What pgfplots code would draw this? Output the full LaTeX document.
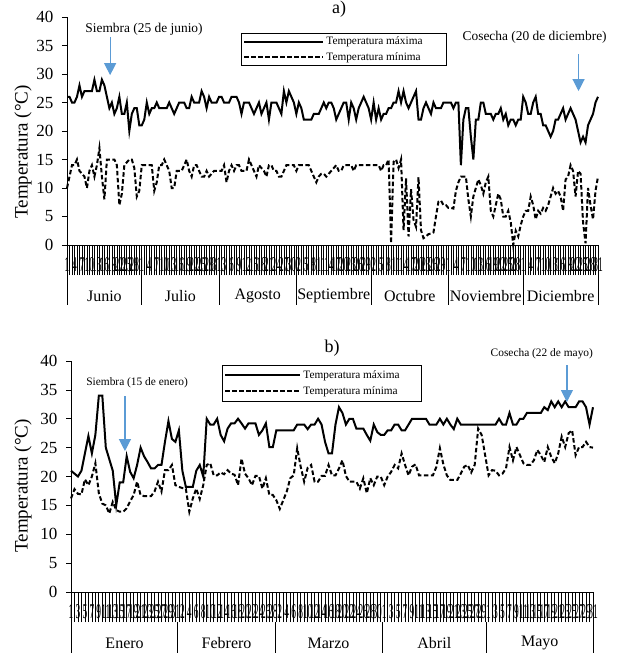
\documentclass[border=0pt]{standalone}
\usepackage{pgfplots}
\pgfplotsset{compat=1.18}
\usepackage{pgfplotstable}
\usepackage{fontspec}
\setmainfont{Liberation Serif}
\usetikzlibrary{arrows.meta}
\definecolor{arrblue}{HTML}{5B9BD5}

\pgfplotstableread{
d tmax tmin
1 26 10
2 26 12
3 25 14
4 25 14
5 26 15
6 28 13
7 26 12.5
8 27 12
9 27 10
10 27 13
11 27 14
12 29 12
13 27 14
14 27 17
15 29 12
16 28 8
17 26 15
18 24 15
19 25 15
20 23 15
21 24 14
22 26 7
23 23 9
24 23 14
25 25 14.5
26 20 15
27 23 15
28 24 13.5
29 24 8.5
30 21 9.5
31 21 14
32 22 14
33 25 14
34 23 14
35 24 14
36 24 9.5
37 25 11
38 24 14
39 24 14
40 24 15
41 24 14
42 25 13
43 24 10
44 23 10
45 24 13
46 25 13
47 25 13
48 25 14
49 24 15
50 24 13
51 26 12
52 25 14
53 25 14
54 25 13
55 27 12
56 26 12
57 24 13
58 26 12
59 25 12.5
60 25 13
61 25 13
62 26 13
63 26 13
64 25 14
65 25 11
66 25 13
67 26 14
68 26 13
69 26 14
70 25 14
71 23 13
72 25 13
73 25 13
74 25 15
75 24 14
76 23 13
77 24 12
78 25 14
79 23 13.5
80 24 13
81 25 12
82 22 14
83 25 14
84 25 13
85 25 13
86 24 12
87 23 12
88 27 13
89 25 14
90 27 14
91 26 14
92 25 14
93 23 13
94 25 14
95 24 14
96 22 14
97 22 14
98 22 14
99 22 13
100 23 12
101 23 11
102 23 12
103 24 12.5
104 25 12.5
105 24 12
106 25 12.5
107 25 13
108 24 13.5
109 22 14
110 23 13
111 24 13
112 25 14
113 25 14
114 22 14
115 25 14
116 24 13
117 22 14
118 24 14
119 25 14
120 26 14
121 25 14
122 24 14
123 22 14
124 25 14
125 22 14
126 24 14
127 22 13
128 23 14
129 23 14
130 24 15
131 24 0.3
132 25 14.6
133 25 15
134 27 13.5
135 25 15
136 27 2.6
137 25 11.7
138 24 1.5
139 25 9.8
140 26 4.4
141 27 3.2
142 22 11.9
143 22 2.6
144 24 1.2
145 25 1.5
146 24 1.9
147 23 2
148 25 2.2
149 24 5
150 24 7.6
151 24 7.8
152 25 7
153 25 7
154 25 6.5
155 25 6.5
156 24 6.4
157 25 9.5
158 25 11
159 14 12
160 22 12
161 24 12
162 24 8
163 19 5
164 15 8.5
165 22 10
166 22 11.5
167 25 10.5
168 25 9
169 23 11
170 23 12
171 23 6
172 22 5
173 23 7
174 23 9
175 24 8
176 22 5
177 23 5
178 21 6
179 22 4
180 22 0
181 21 2.5
182 22 1.5
183 22 3.5
184 26 5
185 25 6
186 23 6
187 23 8.5
188 25 7
189 26 4.5
190 23 6
191 23 5.5
192 21 6.5
193 21 6
194 20 7
195 19 8.5
196 20 10
197 22 9
198 22 9.5
199 23 8.5
200 24 6
201 22 11.5
202 23 12
203 24 14
204 23 13
205 22 8.5
206 20 13
207 18 12.5
208 19 4
209 18 0.3
210 21 10
211 22 7
212 23 4.5
213 25 9.5
214 26 12
}\dataA

\pgfplotstableread{
d tmax tmin
1 21 16.2
2 20.5 17.8
3 20 17
4 21 16.9
5 24 19.5
6 27 18.5
7 24 20
8 27.2 22.3
9 34 17.1
10 34 15.3
11 25 15
12 23 13.6
13 21 15.6
14 15 14.2
15 19 13.9
16 19 13.9
17 23.5 14.5
18 20.8 15.7
19 19.7 16.8
20 22 19.1
21 25 16.8
22 23.5 16.6
23 22.5 16.6
24 21.4 16.6
25 21.4 17.4
26 22 19.1
27 22 17.4
28 26 21.1
29 29.6 21.1
30 26.5 22
31 26 18.5
32 28 18.2
33 21 18
34 18.2 17.9
35 18.2 13.9
36 18.2 16.2
37 21 17.9
38 22 16.1
39 20 18.5
40 30 22
41 29 22.3
42 29 20.2
43 30 20.2
44 27.2 20.7
45 26.1 20.4
46 28.3 21.1
47 29.2 20.5
48 29.2 20.3
49 30 18.5
50 29.2 23.1
51 28.3 20.5
52 29.2 19.7
53 29.2 18.5
54 29.2 20.1
55 27.2 20.1
56 28 17.9
57 29.2 19.7
58 25.1 16.8
59 25.1 16.8
60 28 15.9
61 28 14.4
62 28 15.9
63 28 17.4
64 28 19.7
65 28 20.2
66 29 24.9
67 29 21.7
68 29 19.1
69 28.2 21.5
70 29 22
71 29 19.1
72 30 19.1
73 29 20.1
74 26 20.1
75 24 22
76 24 20.2
77 29 20.2
78 32 21.4
79 31 22.8
80 29 20.1
81 30 19.1
82 30 19.1
83 28.3 19.1
84 28.3 17.9
85 28.3 19.7
86 27.2 17.1
87 26.2 19.7
88 29 18.5
89 27.7 20
90 27.2 20
91 27.2 18.5
92 28 20
93 28 20.8
94 29 22
95 29 21.4
96 28 24
97 28 22
98 29 20.2
99 30 21.7
100 30 22.1
101 30 20.2
102 30 20.2
103 30 20.2
104 29 20.2
105 29 20.2
106 29 21.7
107 30 24.9
108 29 22.1
109 30 20.2
110 29 19.4
111 28.2 19.4
112 30 19.4
113 29 20.5
114 29 21.7
115 29 22
116 29 20.7
117 29 22
118 29 28.3
119 29 27.2
120 29 23.7
121 29 20.2
122 29 21.1
123 29 21
124 30 20.2
125 29 20.5
126 29 21.4
127 31 25.1
128 29 22.8
129 29 25.1
130 30 23.7
131 30 22.3
132 31 22
133 31 22
134 31 22.8
135 31 24.6
136 31 23.7
137 32 22.5
138 31.5 25.1
139 33 23.4
140 32 22.3
141 33 24
142 32 26.9
143 33 25.1
144 32 27.5
145 32 28
146 32 23.7
147 33 25.1
148 33 25.1
149 32 26
150 29 25.1
151 32 25
}\dataB

\pgfplotsset{
  panel/.style={
    scale only axis, clip=false,
    axis x line*=bottom, axis y line*=left,
    axis line style={line width=0.9pt},
    ymin=0, ymax=40, ytick={0,5,...,40},
    /pgf/number format/assume math mode=true,
    tick align=outside,
    major tick length=30pt, minor tick length=30pt,
    tick style={black, line width=0.7pt},
    ytick style={/pgfplots/major tick length=5pt},
    yticklabel style={font=\fontsize{17}{17}\selectfont, xshift=20pt},
    xticklabel style={font=\fontsize{21}{21}\selectfont, xscale=0.45, yshift=21pt},
    legend cell align=left,
  },
  tmax/.style={black, line width=2pt},
  tmin/.style={black, line width=2pt, dash pattern=on 4.5pt off 2.5pt},
}

\begin{document}
\begin{tikzpicture}
\path[use as bounding box] (0pt,0pt) rectangle (624pt,-663pt);

% ---------------- panel a ----------------
\node[font=\fontsize{18}{18}\selectfont, anchor=north, inner sep=0pt] at (339pt,-0.5pt) {a)};
\node[rotate=90, font=\fontsize{19}{19}\selectfont] at (23pt,-152pt) {Temperatura (°C)};
\begin{axis}[panel,
  at={(67pt,-245pt)}, anchor=south west,
  width=531pt, height=228pt,
  xmin=1, xmax=214,
  xtick={1,4,...,214},
  minor xtick={1,...,214},
  xticklabels={1,4,7,10,13,16,19,22,25,28,1,4,7,10,13,16,19,22,25,28,31,3,6,9,12,15,18,21,24,27,30,2,5,8,11,14,17,20,23,26,29,2,5,8,11,14,17,20,23,26,29,1,4,7,10,13,16,19,22,25,28,1,4,7,10,13,16,19,22,25,28,31},
  legend image code/.code={\path (0pt,0pt) -- (29pt,0pt); \draw[#1] (29pt,0pt) -- (79pt,0pt);},
  legend style={at={(0.3277,0.9298)}, anchor=north west, draw=black, line width=0.8pt,
    font=\fontsize{11.3}{12}\selectfont, inner xsep=2pt, inner ysep=1.5pt, row sep=2pt},
]
\addplot[tmax] table[x=d, y=tmax] {\dataA};
\addlegendentry{Temperatura máxima\hspace*{20pt}}
\addplot[tmin] table[x=d, y=tmin] {\dataA};
\addlegendentry{Temperatura mínima\hspace*{20pt}}
% month separators
\draw[line width=0.7pt] (axis cs:1,0) -- ([yshift=-60pt]axis cs:1,0);
\draw[line width=0.7pt] (axis cs:214,0) -- ([yshift=-60pt]axis cs:214,0);
\draw[line width=0.7pt] ([yshift=-30pt]axis cs:31,0) -- ([yshift=-60pt]axis cs:31,0);
\draw[line width=0.7pt] ([yshift=-30pt]axis cs:62,0) -- ([yshift=-60pt]axis cs:62,0);
\draw[line width=0.7pt] ([yshift=-30pt]axis cs:93,0) -- ([yshift=-60pt]axis cs:93,0);
\draw[line width=0.7pt] ([yshift=-30pt]axis cs:123,0) -- ([yshift=-60pt]axis cs:123,0);
\draw[line width=0.7pt] ([yshift=-30pt]axis cs:154,0) -- ([yshift=-60pt]axis cs:154,0);
\draw[line width=0.7pt] ([yshift=-30pt]axis cs:184,0) -- ([yshift=-60pt]axis cs:184,0);
\node[font=\fontsize{16}{16}\selectfont] at ([yshift=-51pt]axis cs:16,0) {Junio};
\node[font=\fontsize{16}{16}\selectfont] at ([yshift=-51pt]axis cs:46.5,0) {Julio};
\node[font=\fontsize{16}{16}\selectfont] at ([yshift=-51pt]axis cs:77.5,0) {Agosto};
\node[font=\fontsize{16}{16}\selectfont] at ([yshift=-51pt]axis cs:108,0) {Septiembre};
\node[font=\fontsize{16}{16}\selectfont] at ([yshift=-51pt]axis cs:138.5,0) {Octubre};
\node[font=\fontsize{16}{16}\selectfont] at ([yshift=-51pt]axis cs:169,0) {Noviembre};
\node[font=\fontsize{16}{16}\selectfont] at ([yshift=-51pt]axis cs:199,0) {Diciembre};
% annotations
\node[font=\fontsize{13.4}{14}\selectfont] at (axis cs:31.9,37.9) {Siembra (25 de junio)};
\draw[arrblue, line width=1.2pt, -{Triangle[width=12pt,length=12pt]}] (axis cs:18.3,36.5) -- (axis cs:18.3,29.8);
\node[font=\fontsize{13.4}{14}\selectfont] at (axis cs:188.6,36.5) {Cosecha (20 de diciembre)};
\draw[arrblue, line width=1.2pt, -{Triangle[width=12pt,length=12pt]}] (axis cs:206.2,33.5) -- (axis cs:206.2,27);
\end{axis}

% ---------------- panel b ----------------
\node[font=\fontsize{18}{18}\selectfont] at (332pt,-348pt) {b)};
\node[rotate=90, font=\fontsize{19}{19}\selectfont] at (23pt,-486pt) {Temperatura (°C)};
\begin{axis}[panel,
  at={(71pt,-592pt)}, anchor=south west,
  width=522pt, height=231pt,
  xmin=1, xmax=151,
  xtick={1,3,...,151},
  minor xtick={1,...,151},
  xticklabels={1,3,5,7,9,11,13,15,17,19,21,23,25,27,29,31,2,4,6,8,10,12,14,16,18,20,22,24,26,28,2,4,6,8,10,12,14,16,18,20,22,24,26,28,30,1,3,5,7,9,11,13,15,17,19,21,23,25,27,29,1,3,5,7,9,11,13,15,17,19,21,23,25,27,29,31},
  legend image code/.code={\path (0pt,0pt) -- (27pt,0pt); \draw[#1] (27pt,0pt) -- (75pt,0pt);},
  legend style={at={(0.2893,0.9827)}, anchor=north west, draw=black, line width=0.8pt,
    font=\fontsize{11.3}{12}\selectfont, inner xsep=2pt, inner ysep=3pt, row sep=3pt},
]
\addplot[tmax] table[x=d, y=tmax] {\dataB};
\addlegendentry{Temperatura máxima\hspace*{18pt}}
\addplot[tmin] table[x=d, y=tmin] {\dataB};
\addlegendentry{Temperatura mínima\hspace*{18pt}}
\draw[line width=0.7pt] (axis cs:1,0) -- ([yshift=-61pt]axis cs:1,0);
\draw[line width=0.7pt] (axis cs:151,0) -- ([yshift=-61pt]axis cs:151,0);
\draw[line width=0.7pt] ([yshift=-30pt]axis cs:31.7,0) -- ([yshift=-61pt]axis cs:31.7,0);
\draw[line width=0.7pt] ([yshift=-30pt]axis cs:59.6,0) -- ([yshift=-61pt]axis cs:59.6,0);
\draw[line width=0.7pt] ([yshift=-30pt]axis cs:90.4,0) -- ([yshift=-61pt]axis cs:90.4,0);
\draw[line width=0.7pt] ([yshift=-30pt]axis cs:120.3,0) -- ([yshift=-61pt]axis cs:120.3,0);
\node[font=\fontsize{16}{16}\selectfont] at ([yshift=-51pt]axis cs:16.4,0) {Enero};
\node[font=\fontsize{16}{16}\selectfont] at ([yshift=-51pt]axis cs:45.7,0) {Febrero};
\node[font=\fontsize{16}{16}\selectfont] at ([yshift=-51pt]axis cs:75,0) {Marzo};
\node[font=\fontsize{16}{16}\selectfont] at ([yshift=-51pt]axis cs:105.4,0) {Abril};
\node[font=\fontsize{16}{16}\selectfont] at ([yshift=-51pt]axis cs:135.7,0) {Mayo};
\node[font=\fontsize{11.4}{12}\selectfont] at (axis cs:20,36.2) {Siembra (15 de enero)};
\draw[arrblue, line width=1.2pt, -{Triangle[width=12pt,length=12pt]}] (axis cs:16.5,33.9) -- (axis cs:16.5,24.4);
\node[font=\fontsize{11.4}{12}\selectfont] at (axis cs:136.3,41.2) {Cosecha (22 de mayo)};
\draw[arrblue, line width=1.2pt, -{Triangle[width=12pt,length=12pt]}] (axis cs:143.5,39.3) -- (axis cs:143.5,32.9);
\end{axis}
\end{tikzpicture}
\end{document}
